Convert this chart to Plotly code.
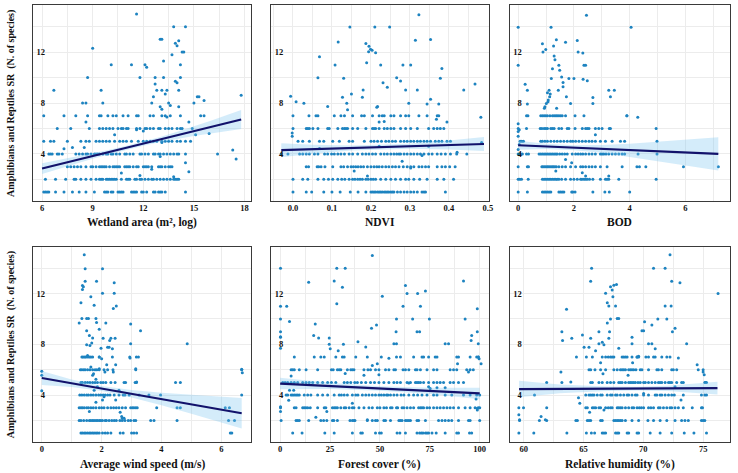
import plotly.graph_objects as go

# ---------------- DATA ----------------
# Panel 1: Wetland area (m2, log)
wet_rows = [
    (1, [6.1, 6.2, 6.3, 6.4, 6.8, 7.3, 7.8, 8.2, 8.6, 9.1, 9.7, 9.8, 9.9, 10.1, 10.2, 10.5, 10.6, 10.7, 10.8, 11.3, 11.4, 11.5, 11.6, 11.9, 12.0, 12.2, 12.6, 12.7, 12.9, 13.0, 13.1, 13.3, 14.5]),
    (2, [6.2, 6.8, 7.4, 7.9, 8.0, 8.3, 8.6, 8.9, 9.2, 9.4, 9.5, 9.6, 9.8, 9.9, 10.0, 10.1, 10.2, 10.3, 10.4, 10.7, 11.0, 11.1, 11.2, 11.5, 11.6, 11.8, 11.9, 12.1, 12.3, 12.5, 12.6, 12.8, 13.0, 13.2, 13.4, 13.6, 13.8, 13.9, 14.0, 14.1]),
    (3, [7.5, 7.7, 7.9, 8.1, 8.3, 8.6, 8.9, 9.0, 9.2, 9.4, 9.5, 9.6, 9.7, 9.8, 10.0, 10.2, 10.3, 10.4, 10.5, 10.6, 10.9, 11.0, 11.1, 11.2, 11.4, 11.6, 11.7, 12.0, 12.1, 12.2, 12.3, 12.5, 12.9, 13.0, 13.1, 13.3, 13.5, 13.6, 13.7]),
    (4, [6.4, 6.5, 6.6, 6.9, 7.0, 7.2, 8.0, 8.2, 8.4, 8.6, 8.7, 8.9, 9.1, 9.2, 9.3, 9.4, 9.6, 9.8, 9.9, 10.1, 10.2, 10.4, 10.6, 10.9, 11.0, 11.2, 11.4, 11.8, 11.9, 12.1, 12.3, 12.6, 12.7, 12.9, 13.0, 13.2, 13.4, 13.6, 13.8, 14.0, 14.1, 14.5, 16.4]),
    (5, [6.1, 6.5, 6.7, 7.5, 8.3, 8.6, 8.8, 9.2, 9.4, 9.6, 9.8, 10.0, 10.3, 10.6, 10.8, 11.0, 11.3, 11.7, 12.0, 12.2, 12.4, 12.6, 12.8, 13.1, 13.3, 13.5, 13.7, 14.0, 14.2, 14.5, 14.8]),
    (6, [6.9, 7.7, 8.8, 9.4, 9.6, 9.8, 10.0, 10.2, 10.5, 10.7, 10.8, 11.0, 11.1, 11.6, 11.8, 12.1, 12.2, 12.4, 12.6, 12.9, 13.0, 13.3, 13.5, 13.7, 14.0, 14.2, 14.3, 14.9]),
    (7, [6.1, 7.3, 8.0, 8.7, 9.4, 9.5, 9.9, 10.2, 10.4, 10.8, 11.1, 11.6, 11.7, 12.4, 12.6, 13.1, 13.3, 13.6, 14.2, 15.4, 15.6]),
]
wet_extra_x = [6.7, 8.4, 8.6, 8.7, 9.0, 9.5, 9.6, 10.1, 11.3, 11.6, 11.8, 12.1, 12.2, 12.5, 12.6, 12.7, 12.8, 12.7, 13.0, 13.1,
               13.2, 13.2, 13.1, 13.3, 13.4, 13.0, 13.1, 13.5, 13.6, 13.7, 13.8, 13.9, 14.0, 14.1, 13.9, 14.0, 14.1, 14.2, 14.2, 14.3,
               14.4, 14.5, 14.1, 14.7, 15.0, 15.2, 15.3, 15.6, 15.1, 15.9, 12.0, 11.6, 10.3, 10.7, 11.8, 12.5, 13.0, 13.1, 13.4, 13.8,
               14.5, 14.7, 17.3, 17.5, 17.8, 8.6, 8.5, 7.3, 7.8]
wet_extra_y = [9.0, 8.0, 8.0, 10.0, 12.3, 9.0, 8.0, 11.0, 11.0, 15.0, 10.0, 11.0, 10.8, 8.0, 8.5, 9.5, 9.0, 10.0, 13.0, 13.0,
               11.3, 10.0, 9.0, 8.7, 9.0, 7.7, 7.5, 8.0, 7.8, 11.8, 14.0, 12.7, 12.5, 12.9, 9.7, 9.6, 9.0, 10.0, 11.0, 12.0,
               12.0, 14.0, 7.7, 6.5, 8.0, 8.5, 8.5, 8.2, 5.5, 5.6, 5.8, 5.9, 5.5, 2.5, 2.3, 2.8, 3.8, 4.9, 6.9, 2.2,
               3.3, 2.6, 4.3, 3.6, 8.6, 6.5, 4.5, 4.4, 4.5]
wet_band_x = [6.0, 7.0, 8.0, 9.0, 10.0, 11.0, 12.0, 13.0, 14.0, 15.0, 16.0, 17.0, 17.8]
wet_fit_y = [2.85, 3.18, 3.50, 3.83, 4.15, 4.48, 4.81, 5.13, 5.46, 5.78, 6.11, 6.44, 6.70]
wet_band_hw = [0.42, 0.35, 0.28, 0.22, 0.18, 0.16, 0.17, 0.20, 0.28, 0.38, 0.50, 0.63, 0.75]

# Panel 2: NDVI
ndvi_rows = [
    (1, [0.000, 0.034, 0.048, 0.079, 0.100, 0.121, 0.147, 0.167, 0.187, 0.200, 0.204, 0.208, 0.212, 0.217, 0.221, 0.225, 0.229, 0.234, 0.238, 0.242, 0.246, 0.251, 0.255, 0.259, 0.268, 0.276, 0.285, 0.293, 0.302, 0.310, 0.319, 0.331, 0.336, 0.340, 0.391]),
    (2, [0.000, 0.025, 0.038, 0.064, 0.079, 0.091, 0.102, 0.115, 0.125, 0.133, 0.144, 0.153, 0.159, 0.166, 0.172, 0.178, 0.187, 0.193, 0.200, 0.206, 0.212, 0.225, 0.238, 0.251, 0.263, 0.276, 0.289, 0.297, 0.310, 0.325, 0.344, 0.370, 0.387, 0.412]),
    (3, [0.034, 0.040, 0.062, 0.066, 0.072, 0.082, 0.102, 0.123, 0.130, 0.140, 0.149, 0.155, 0.161, 0.167, 0.174, 0.181, 0.191, 0.200, 0.208, 0.215, 0.221, 0.229, 0.238, 0.246, 0.255, 0.263, 0.272, 0.283, 0.293, 0.302, 0.310, 0.323, 0.331, 0.340, 0.348, 0.370, 0.382, 0.391, 0.402, 0.416]),
    (4, [-0.030, -0.013, 0.017, 0.025, 0.034, 0.042, 0.055, 0.064, 0.081, 0.089, 0.099, 0.106, 0.115, 0.123, 0.132, 0.144, 0.153, 0.166, 0.178, 0.187, 0.195, 0.204, 0.212, 0.225, 0.234, 0.242, 0.251, 0.259, 0.266, 0.272, 0.276, 0.285, 0.293, 0.302, 0.310, 0.319, 0.327, 0.336, 0.348, 0.357, 0.370, 0.380, 0.391, 0.404, 0.420, 0.446]),
    (5, [0.013, 0.025, 0.042, 0.068, 0.079, 0.102, 0.119, 0.144, 0.153, 0.183, 0.200, 0.208, 0.217, 0.227, 0.238, 0.246, 0.255, 0.263, 0.276, 0.285, 0.293, 0.302, 0.310, 0.319, 0.327, 0.336, 0.344, 0.353, 0.365, 0.374, 0.382, 0.395, 0.404]),
    (6, [0.000, 0.034, 0.038, 0.042, 0.051, 0.064, 0.089, 0.093, 0.115, 0.127, 0.132, 0.136, 0.140, 0.153, 0.166, 0.187, 0.204, 0.208, 0.212, 0.221, 0.234, 0.242, 0.251, 0.259, 0.276, 0.289, 0.302, 0.319, 0.348, 0.361, 0.370, 0.378, 0.387]),
    (7, [0.000, 0.041, 0.059, 0.064, 0.106, 0.123, 0.132, 0.153, 0.176, 0.183, 0.204, 0.221, 0.229, 0.234, 0.251, 0.259, 0.276, 0.289, 0.297, 0.323, 0.344, 0.370, 0.374]),
]
ndvi_extra_x = [-0.006, 0.008, 0.028, 0.064, 0.068, 0.089, 0.108, 0.116, 0.130, 0.127, 0.138, 0.140, 0.146, 0.150, 0.178, 0.180,
                0.189, 0.187, 0.194, 0.195, 0.199, 0.203, 0.210, 0.212, 0.215, 0.217, 0.221, 0.225, 0.231, 0.242, 0.248, 0.266,
                0.276, 0.282, 0.289, 0.297, 0.302, 0.314, 0.319, 0.323, 0.344, 0.353, 0.353, 0.374, 0.378, 0.382, 0.395, 0.438,
                0.467, 0.482, 0.368, -0.002, -0.002, 0.068, 0.221, 0.280, 0.302, 0.421, 0.157, 0.191, 0.331, 0.484, 0.234, 0.348]
ndvi_extra_y = [8.53, 8.10, 7.98, 9.99, 11.63, 7.72, 10.98, 12.80, 9.94, 8.45, 7.98, 7.46, 13.97, 8.71, 8.45, 9.03,
                11.16, 12.67, 12.02, 12.46, 12.23, 12.15, 13.97, 11.94, 7.67, 7.72, 6.50, 10.98, 9.60, 9.23, 13.97, 9.99,
                9.73, 10.98, 9.03, 7.98, 10.98, 12.93, 9.03, 14.94, 7.93, 12.98, 8.30, 7.93, 9.94, 10.72, 6.50, 9.03,
                9.49, 6.89, 6.73, 5.64, 5.38, 4.42, 4.60, 3.43, 2.90, 4.13, 2.65, 2.26, 3.87, 4.90, 6.55, 4.60]
ndvi_band_x = [-0.03, 0.05, 0.15, 0.22, 0.30, 0.40, 0.49]
ndvi_fit_y = [4.29, 4.37, 4.46, 4.53, 4.60, 4.70, 4.78]
ndvi_band_hw = [0.55, 0.35, 0.20, 0.18, 0.20, 0.35, 0.55]

# Panel 3: BOD
bod_rows = [
    (1, [0.0, 0.33, 0.87, 0.93, 0.99, 1.05, 1.11, 1.17, 1.46, 1.52, 1.58, 1.64, 1.92, 1.96, 2.04, 2.68, 3.11, 3.27, 4.0]),
    (2, [0.0, 0.06, 0.12, 0.36, 0.87, 0.93, 0.99, 1.05, 1.11, 1.17, 1.23, 1.29, 1.35, 1.40, 1.46, 1.56, 1.70, 1.88, 2.0, 2.12, 2.24, 2.29, 2.36, 2.42, 2.48, 2.56, 2.68, 2.95, 3.13, 3.19, 3.25, 3.61, 4.95]),
    (3, [0.0, 0.33, 0.37, 0.85, 0.89, 0.94, 0.99, 1.04, 1.08, 1.13, 1.18, 1.23, 1.27, 1.32, 1.37, 1.46, 1.58, 1.70, 1.88, 2.06, 2.24, 2.32, 2.42, 2.54, 2.65, 2.77, 2.95, 3.19, 3.73, 4.26, 4.35, 4.58, 5.93, 7.18]),
    (4, [0.0, 0.07, 0.15, 0.30, 0.37, 0.75, 0.81, 0.87, 0.93, 0.99, 1.05, 1.11, 1.17, 1.23, 1.29, 1.35, 1.40, 1.49, 1.58, 1.67, 1.76, 1.94, 2.06, 2.15, 2.24, 2.32, 2.42, 2.54, 2.65, 2.77, 2.95, 3.01, 3.07, 3.15, 3.25, 3.37, 3.49, 3.61, 3.73, 3.82, 4.30, 4.98]),
    (5, [0.07, 0.13, 0.19, 0.81, 0.87, 0.96, 1.05, 1.17, 1.29, 1.40, 1.52, 1.64, 1.76, 1.88, 1.96, 2.06, 2.18, 2.30, 2.42, 2.54, 2.65, 2.77, 2.95, 3.13, 3.37, 3.67, 3.82, 4.98]),
    (6, [0.0, 0.30, 0.79, 0.85, 0.93, 0.99, 1.05, 1.17, 1.23, 1.29, 1.46, 1.56, 1.76, 1.82, 2.04, 2.30, 2.42, 2.48, 2.54, 2.77, 2.89, 3.01, 3.27, 3.31, 4.95]),
    (7, [0.30, 0.35, 0.81, 0.87, 0.93, 0.99, 1.05, 1.14, 1.23, 1.29, 1.35, 1.40, 1.46, 1.52, 1.58, 1.70, 2.04, 2.36, 3.90]),
]
bod_extra_x = [0.0, 0.0, 0.0, 0.0, 0.0, 0.0, 0.25, 0.33, 0.33, 0.87, 0.89, 0.99, 1.05, 0.96, 0.94, 1.01, 1.07, 1.08, 1.11, 1.13,
               1.15, 1.18, 1.19, 1.23, 1.27, 1.29, 1.32, 1.37, 1.38, 1.44, 1.46, 1.49, 1.56, 1.61, 1.61, 1.70, 1.73, 1.82, 1.88, 2.0,
               2.12, 2.15, 2.32, 2.33, 2.36, 2.42, 2.48, 2.68, 2.68, 3.25, 3.31, 3.45, 3.90, 4.05, 4.29, 1.70, 1.92, 1.35, 2.30, 2.77,
               2.42, 3.25, 2.45, 0.04, 0.04]
bod_extra_y = [13.95, 10.96, 6.36, 5.77, 5.38, 4.34, 9.48, 9.01, 7.92, 12.65, 12.0, 12.2, 8.81, 7.71, 7.58, 7.97, 8.10, 8.23, 9.01, 8.49,
               8.70, 13.95, 9.92, 10.70, 12.47, 11.69, 11.40, 12.96, 7.58, 9.01, 10.96, 10.57, 10.05, 9.61, 9.27, 12.78, 8.49, 9.92, 7.97, 9.92,
               12.91, 12.0, 11.92, 9.87, 10.96, 10.96, 9.74, 8.44, 7.97, 9.01, 8.49, 9.01, 6.99, 13.95, 6.88, 3.56, 3.30, 2.65, 2.52, 5.50,
               2.26, 2.26, 14.9, 5.90, 4.73]
bod_band_x = [0.0, 1.0, 2.0, 3.0, 4.0, 5.0, 6.0, 7.18]
bod_fit_y = [4.68, 4.59, 4.49, 4.40, 4.30, 4.21, 4.11, 4.00]
bod_band_hw = [0.35, 0.20, 0.20, 0.30, 0.50, 0.75, 1.00, 1.30]

# Panel 4: Average wind speed (m/s)
wind_rows = [
    (1, [1.31, 1.36, 1.42, 1.47, 1.53, 1.59, 1.64, 1.70, 1.75, 1.81, 1.86, 1.92, 2.03, 2.12, 2.20, 2.31, 2.62, 2.72, 3.00, 3.08, 3.17, 6.30, 6.35]),
    (2, [1.25, 1.31, 1.40, 1.50, 1.59, 1.64, 1.70, 1.75, 1.81, 1.86, 1.92, 1.97, 2.03, 2.12, 2.16, 2.25, 2.34, 2.42, 2.49, 2.61, 2.69, 2.78, 2.89, 2.97, 3.08, 3.14, 3.64, 3.75, 4.52, 6.24, 6.44]),
    (3, [1.25, 1.31, 1.36, 1.42, 1.50, 1.56, 1.64, 1.72, 1.81, 1.92, 2.00, 2.08, 2.20, 2.31, 2.40, 2.49, 2.58, 2.69, 2.80, 2.97, 3.03, 3.08, 3.14, 3.19, 3.84, 4.52, 4.63, 6.13, 6.27]),
    (4, [1.27, 1.34, 1.42, 1.50, 1.56, 1.64, 1.72, 1.81, 1.90, 1.97, 2.05, 2.12, 2.20, 2.28, 2.42, 2.58, 2.72, 2.78, 2.92, 3.25, 3.58, 3.97, 6.68]),
    (5, [1.31, 1.36, 1.45, 1.53, 1.61, 1.70, 1.78, 1.86, 1.97, 2.05, 2.14, 2.31, 2.45, 2.75, 2.80, 3.12, 3.16, 4.47, 4.63]),
    (6, [1.29, 1.34, 1.40, 1.45, 1.53, 1.61, 1.70, 1.78, 1.84, 1.92, 2.08, 2.20, 2.38, 3.14, 6.68]),
    (7, [1.34, 1.38, 1.43, 1.47, 1.53, 1.59, 1.64, 1.70, 1.92, 2.36, 3.16, 3.23]),
]
wind_extra_x = [0.0, 0.0, 0.0, 1.25, 1.31, 1.34, 1.36, 1.36, 1.39, 1.42, 1.45, 1.50, 1.50, 1.50, 1.53, 1.56, 1.59, 1.61, 1.64, 1.67,
                1.70, 1.45, 2.03, 1.83, 1.75, 1.81, 1.83, 1.92, 1.98, 1.92, 2.00, 2.03, 2.05, 2.14, 2.20, 2.25, 2.27, 2.36, 2.31, 2.42,
                2.42, 2.39, 2.49, 2.45, 2.39, 2.58, 2.47, 2.62, 2.67, 2.69, 2.75, 2.47, 2.17, 1.81, 1.86, 1.81, 1.75, 1.64, 1.70, 1.73,
                1.92, 2.11, 2.08, 2.03, 1.59, 2.97, 2.94, 2.95, 2.97, 3.30, 3.14, 3.17, 4.86, 6.68, 6.70]
wind_extra_y = [5.88, 5.56, 4.34, 9.68, 11.29, 10.04, 12.33, 12.65, 12.54, 15.07, 12.98, 10.04, 9.08, 7.96, 7.13, 10.04, 8.69, 7.90, 11.76, 8.10,
                8.50, 13.97, 13.97, 12.98, 11.08, 10.04, 9.73, 9.20, 7.70, 7.00, 6.86, 12.02, 8.48, 9.68, 7.78, 7.78, 8.30, 7.65, 8.48, 12.85,
                12.02, 10.82, 11.03, 8.48, 5.82, 4.39, 3.61, 2.65, 2.31, 2.18, 2.18, 6.40, 6.40, 5.25, 4.65, 3.43, 4.39, 6.21, 5.56, 5.69,
                6.08, 5.82, 3.87, 3.61, 2.70, 9.60, 7.00, 6.92, 8.04, 9.08, 6.08, 5.04, 8.04, 6.03, 5.77]
wind_band_x = [0.0, 1.0, 2.0, 3.0, 4.0, 5.0, 6.0, 6.68]
wind_fit_y = [5.35, 4.93, 4.52, 4.10, 3.69, 3.27, 2.85, 2.57]
wind_band_hw = [0.55, 0.30, 0.20, 0.30, 0.50, 0.75, 1.00, 1.20]

# Panel 5: Forest cover (%)
forest_rows = [
    (1, [6.3, 11.0, 22.4, 27.1, 36.2, 40.4, 41.2, 47.8, 49.8, 50.7, 58.6, 60.0, 62.8, 68.6, 69.9, 70.8, 71.6, 72.8, 73.6, 74.4, 76.1, 78.2, 82.7, 88.5, 89.4, 94.9, 96.0]),
    (2, [0.5, 8.0, 8.8, 9.6, 14.3, 20.4, 21.8, 23.4, 26.2, 26.9, 28.7, 35.0, 36.2, 37.0, 37.5, 43.7, 46.2, 47.8, 48.7, 52.0, 52.8, 55.3, 59.5, 60.3, 61.1, 62.8, 63.6, 64.5, 65.3, 68.6, 69.4, 72.8, 79.4, 81.1, 82.7, 84.4, 86.0, 89.4, 94.4, 95.2, 100.0]),
    (3, [0.2, 7.1, 8.0, 11.3, 12.1, 12.9, 13.8, 15.1, 18.8, 22.1, 22.9, 26.2, 27.1, 27.9, 28.7, 30.4, 32.1, 32.9, 34.6, 36.2, 37.0, 39.5, 42.0, 44.5, 46.2, 48.7, 50.0, 52.0, 53.3, 55.3, 56.1, 58.3, 58.9, 61.1, 62.0, 63.6, 65.3, 66.9, 69.4, 70.3, 71.1, 71.9, 73.6, 74.9, 76.9, 78.6, 80.2, 81.9, 83.6, 85.2, 86.9, 89.4, 92.7, 95.2, 97.7, 99.3, 100.0]),
    (4, [3.0, 3.8, 5.5, 6.3, 7.1, 8.0, 8.8, 9.6, 12.1, 13.8, 15.4, 18.8, 21.3, 23.8, 27.1, 29.6, 30.7, 32.1, 33.7, 36.2, 37.9, 39.0, 41.2, 42.9, 44.5, 46.2, 47.8, 49.5, 50.7, 52.0, 53.3, 54.0, 55.3, 57.0, 58.6, 60.6, 62.0, 64.5, 66.9, 68.9, 71.1, 73.6, 76.9, 78.6, 82.7, 86.0, 91.9, 95.2, 98.5, 100.0]),
    (5, [1.3, 2.5, 3.8, 5.5, 7.1, 8.8, 11.3, 13.0, 14.6, 16.3, 18.8, 21.3, 23.8, 25.7, 27.9, 32.1, 33.7, 35.4, 37.4, 38.7, 40.7, 42.9, 45.3, 47.3, 49.5, 52.0, 54.5, 57.0, 58.6, 60.3, 63.6, 65.3, 67.8, 68.6, 69.4, 70.3, 71.9, 74.4, 76.9, 78.6, 80.2, 81.9, 85.2, 86.9, 89.4, 91.9]),
    (6, [5.5, 6.3, 7.1, 9.6, 13.0, 18.8, 25.7, 26.6, 28.7, 29.6, 30.4, 33.7, 35.4, 36.2, 37.0, 42.0, 44.0, 45.3, 47.8, 49.5, 52.8, 54.5, 57.0, 57.8, 61.6, 62.8, 64.5, 67.8, 68.6, 70.3, 73.6, 76.9, 78.6, 85.2, 86.9, 88.5, 93.5, 95.2, 96.8]),
    (7, [7.1, 17.1, 20.4, 22.1, 27.9, 31.2, 32.1, 37.9, 43.7, 50.7, 58.3, 60.3, 66.9, 71.1, 71.9, 74.4, 77.7, 78.6, 88.5, 89.4, 95.2, 98.5, 99.3]),
]
forest_extra_x = [0.2, 0.2, 0.2, 0.2, 0.2, 0.2, 0.2, 3.3, 4.7, 16.8, 17.6, 14.3, 19.3, 24.6, 24.6, 25.1, 27.1, 28.4, 28.4, 29.1,
                  31.2, 31.7, 32.6, 32.6, 39.0, 42.9, 42.0, 46.2, 45.8, 46.2, 48.3, 48.7, 49.5, 51.2, 54.5, 57.0, 58.1, 58.3, 58.3, 61.6,
                  62.8, 63.6, 66.4, 68.6, 69.9, 68.9, 70.3, 72.8, 74.8, 82.7, 84.4, 88.9, 91.9, 92.7, 94.4, 95.7, 98.8, 98.8, 99.3, 99.3,
                  99.7, 100.7, 98.2, 98.8, 98.8, 96.0, 6.8, 5.5, 4.7, 4.3, 0.2, 0.2, 23.4, 17.9, 36.2, 43.7, 64.5, 78.6, 82.7, 74.4, 75.2]
forest_extra_y = [14.0, 11.0, 10.0, 9.0, 8.56, 7.7, 8.6, 11.0, 9.8, 8.7, 9.6, 12.9, 8.5, 8.5, 8.0, 7.65, 13.0, 14.0, 11.2, 7.5,
                  12.5, 8.0, 14.0, 5.7, 8.2, 7.8, 5.56, 15.0, 9.26, 6.34, 9.52, 6.47, 5.6, 11.8, 6.9, 8.04, 9.0, 10.0, 8.04, 11.0,
                  12.65, 12.0, 10.0, 9.0, 9.0, 12.0, 11.0, 12.2, 10.0, 8.04, 8.04, 6.47, 13.0, 10.0, 5.82, 8.3, 10.8, 9.0, 8.04, 7.0,
                  6.86, 6.47, 3.69, 2.96, 2.83, 8.69, 4.39, 5.51, 4.39, 3.6, 2.7, 3.08, 2.7, 2.26, 3.35, 2.05, 4.96, 4.57, 4.57, 4.65, 4.52]
forest_band_x = [0.0, 25.0, 50.0, 75.0, 100.0]
forest_fit_y = [4.91, 4.72, 4.52, 4.33, 4.13]
forest_band_hw = [0.45, 0.25, 0.18, 0.25, 0.45]

# Panel 6: Relative humidity (%)
hum_rows = [
    (1, [59.58, 60.83, 63.60, 65.23, 65.65, 65.92, 66.56, 66.70, 66.84, 67.67, 67.81, 67.94, 68.64, 68.77, 69.47, 69.60, 70.57, 71.40, 72.37, 73.42, 74.23, 75.28]),
    (2, [59.64, 61.30, 61.91, 64.35, 64.48, 65.31, 65.45, 65.59, 66.42, 66.56, 67.53, 67.67, 67.81, 67.94, 68.08, 68.22, 68.50, 69.05, 69.60, 70.38, 70.85, 71.40, 71.96, 72.65, 73.20, 73.48, 73.76, 74.86, 75.00, 75.14]),
    (3, [59.58, 59.97, 61.91, 65.18, 65.31, 65.73, 65.87, 66.01, 66.28, 66.42, 66.84, 67.06, 67.25, 67.39, 67.81, 67.94, 68.08, 68.22, 68.50, 68.77, 69.05, 69.19, 69.47, 69.66, 69.83, 70.02, 70.43, 70.63, 70.85, 71.26, 71.40, 71.68, 71.96, 72.23, 72.37, 72.65, 72.93, 73.34, 74.09, 74.86, 74.95]),
    (4, [60.89, 65.18, 65.45, 65.59, 65.73, 65.87, 66.14, 66.42, 66.56, 66.97, 67.25, 67.39, 67.67, 67.81, 68.08, 68.36, 68.64, 68.77, 69.05, 69.33, 69.47, 70.02, 70.43, 70.99, 71.13, 71.40, 71.54, 71.82, 72.10, 72.37, 72.59, 73.34, 74.86, 75.14, 75.28]),
    (5, [61.91, 63.18, 65.59, 65.73, 66.28, 66.56, 66.97, 67.25, 67.53, 67.94, 68.08, 68.22, 68.50, 68.77, 68.91, 69.05, 69.19, 69.33, 69.55, 69.74, 70.02, 70.16, 70.43, 70.71, 70.99, 71.26, 71.40, 71.54, 71.82, 72.10, 72.23, 72.37, 72.79, 73.20, 73.34, 75.14, 75.28]),
    (6, [65.45, 65.59, 65.95, 66.42, 66.84, 67.53, 67.81, 68.08, 68.22, 68.36, 68.50, 68.77, 68.91, 69.05, 69.19, 69.38, 69.74, 69.88, 70.43, 71.13, 71.26, 71.54, 72.37, 72.51, 72.79]),
    (7, [65.23, 65.73, 66.56, 66.84, 67.06, 67.25, 67.39, 67.53, 68.22, 68.36, 68.50, 68.64, 69.05, 69.47, 69.60, 70.21, 70.43, 70.85, 70.99, 71.54, 71.96, 72.23]),
]
hum_extra_x = [59.58, 59.64, 61.44, 61.80, 63.10, 63.18, 63.24, 63.57, 64.01, 64.40, 64.57, 64.68, 64.90, 65.04, 65.45, 65.59, 65.67, 65.59, 65.50, 66.00,
               66.28, 66.28, 66.42, 66.56, 66.70, 66.62, 66.70, 66.84, 66.98, 66.98, 67.11, 67.11, 67.17, 67.25, 67.25, 67.39, 67.45, 67.53, 67.67, 67.75,
               67.81, 67.94, 67.94, 68.72, 69.05, 69.05, 69.10, 69.47, 69.60, 69.88, 70.02, 70.10, 70.02, 70.43, 70.71, 70.71, 70.85, 70.99, 71.21, 71.82,
               71.82, 71.96, 72.23, 72.32, 72.37, 72.43, 72.65, 72.65, 72.93, 73.06, 73.15, 73.62, 74.50, 74.59, 75.00, 75.00, 75.09, 75.20, 76.25, 63.93]
hum_extra_y = [2.44, 2.05, 2.31, 2.05, 5.82, 9.00, 8.30, 10.77, 8.48, 7.00, 3.79, 3.35, 8.74, 7.78, 7.78, 12.98, 14.00, 8.48, 2.65, 7.50,
               9.00, 8.04, 6.55, 8.17, 7.96, 5.69, 2.83, 12.02, 11.29, 9.68, 11.03, 8.48, 9.00, 10.00, 12.54, 12.28, 11.76, 12.67, 11.03, 12.72,
               10.04, 10.04, 7.70, 5.56, 8.56, 8.04, 6.55, 7.00, 7.07, 9.08, 9.08, 9.78, 4.13, 8.04, 9.52, 8.04, 14.00, 7.65, 10.00, 14.00,
               11.03, 10.00, 15.06, 11.03, 12.98, 9.00, 9.26, 4.65, 6.92, 12.85, 3.61, 8.04, 6.40, 6.00, 6.00, 5.82, 5.61, 5.00, 12.00, 5.04]
hum_band_x = [59.6, 63.0, 67.0, 69.5, 72.0, 74.0, 76.2]
hum_fit_y = [4.47, 4.49, 4.50, 4.51, 4.53, 4.54, 4.55]
hum_band_hw = [0.65, 0.35, 0.17, 0.15, 0.20, 0.35, 0.50]

# Titles and ticks
x_titles = ["Wetland area (m², log)", "NDVI", "BOD", "Average wind speed (m/s)", "Forest cover (%)", "Relative humidity (%)"]
y_title = "Amphibians and Reptiles SR  (N. of species)"
x_tickvals = [[6, 9, 12, 15, 18], [0.0, 0.1, 0.2, 0.3, 0.4, 0.5], [0, 2, 4, 6], [0, 2, 4, 6], [0, 25, 50, 75, 100], [60, 65, 70, 75]]
y_tickvals = [4, 8, 12]

# ---------------- STYLE ----------------
FONT = "Liberation Serif"
PT_COLOR = "#1d83c0"
LINE_COLOR = "#12126b"
BAND_COLOR = "rgba(120,195,240,0.32)"
GRID = "#ececec"

panels = [
    (wet_rows, wet_extra_x, wet_extra_y, wet_band_x, wet_fit_y, wet_band_hw),
    (ndvi_rows, ndvi_extra_x, ndvi_extra_y, ndvi_band_x, ndvi_fit_y, ndvi_band_hw),
    (bod_rows, bod_extra_x, bod_extra_y, bod_band_x, bod_fit_y, bod_band_hw),
    (wind_rows, wind_extra_x, wind_extra_y, wind_band_x, wind_fit_y, wind_band_hw),
    (forest_rows, forest_extra_x, forest_extra_y, forest_band_x, forest_fit_y, forest_band_hw),
    (hum_rows, hum_extra_x, hum_extra_y, hum_band_x, hum_fit_y, hum_band_hw),
]
x_ranges = [[5.45, 18.4], [-0.056, 0.502], [-0.31, 7.6], [-0.3, 7.0], [-4.5, 104.5], [58.8, 77.25]]
x_minor = [1.5, 0.05, 1, 1, 12.5, 2.5]
x_doms = [[33 / 738, 253 / 738], [273 / 738, 492 / 738], [513 / 738, 735 / 738]]
y_doms = [[1 - 201 / 473, 1 - 5 / 473], [1 - 442 / 473, 1 - 246.7 / 473]]

fig = go.Figure()
layout = dict(width=738, height=473, margin=dict(l=0, r=0, t=0, b=0),
              paper_bgcolor="white", plot_bgcolor="white", showlegend=False,
              font=dict(family=FONT, color="#111"))
annotations = []

for i, (rows, ex_x, ex_y, bx, fy, hw) in enumerate(panels):
    n = i + 1
    xa = "x" if n == 1 else f"x{n}"
    ya = "y" if n == 1 else f"y{n}"
    px, py = [], []
    for yv, xs in rows:
        px.extend(xs)
        py.extend([yv] * len(xs))
    px.extend(ex_x)
    py.extend(ex_y)
    fig.add_trace(go.Scatter(x=px, y=py, mode="markers", xaxis=xa, yaxis=ya,
                             marker=dict(size=3.0, color=PT_COLOR, line=dict(width=0)),
                             hoverinfo="skip"))
    lo = [f - h for f, h in zip(fy, hw)]
    hi = [f + h for f, h in zip(fy, hw)]
    fig.add_trace(go.Scatter(x=bx + bx[::-1], y=hi + lo[::-1], fill="toself", mode="lines",
                             line=dict(width=0), fillcolor=BAND_COLOR,
                             xaxis=xa, yaxis=ya, hoverinfo="skip"))
    fig.add_trace(go.Scatter(x=[bx[0], bx[-1]], y=[fy[0], fy[-1]], mode="lines",
                             line=dict(color=LINE_COLOR, width=2.2), xaxis=xa, yaxis=ya,
                             hoverinfo="skip"))

    row, col = divmod(i, 3)
    xkey = "xaxis" if n == 1 else f"xaxis{n}"
    ykey = "yaxis" if n == 1 else f"yaxis{n}"
    layout[xkey] = dict(domain=x_doms[col], anchor=ya, range=x_ranges[i],
                        tickvals=x_tickvals[i], tickformat=".1f" if i == 1 else None,
                        showgrid=True, gridcolor=GRID, gridwidth=1, zeroline=False,
                        minor=dict(dtick=x_minor[i], tick0=0, showgrid=True, gridcolor=GRID, gridwidth=0.6),
                        showline=True, mirror=True, linecolor="#3a3a3a", linewidth=1.3,
                        ticks="", ticklabelstandoff=-1,
                        tickfont=dict(family=FONT, size=8.5, color="#111", weight="bold"))
    layout[ykey] = dict(domain=y_doms[row], anchor=xa, range=[0.3, 15.7],
                        tickvals=y_tickvals, showgrid=True, gridcolor=GRID, gridwidth=1,
                        zeroline=False,
                        minor=dict(dtick=2, tick0=0, showgrid=True, gridcolor=GRID, gridwidth=0.6),
                        showline=True, mirror=True, linecolor="#3a3a3a", linewidth=1.3,
                        ticks="", ticklabelstandoff=-15,
                        tickfont=dict(family=FONT, size=8.5, color="#111", weight="bold"))
    xc = (x_doms[col][0] + x_doms[col][1]) / 2
    ty = 1 - 222 / 473 if row == 0 else 1 - 464 / 473
    annotations.append(dict(text=x_titles[i], x=xc, y=ty, xref="paper", yref="paper",
                            showarrow=False, xanchor="center", yanchor="middle",
                            font=dict(family=FONT, size=11.5, color="#111", weight="bold")))

for row in range(2):
    yc = (y_doms[row][0] + y_doms[row][1]) / 2
    annotations.append(dict(text=y_title, x=11 / 738, y=yc, xref="paper", yref="paper",
                            showarrow=False, textangle=-90, xanchor="center", yanchor="middle",
                            font=dict(family=FONT, size=10, color="#111", weight="bold")))

layout["annotations"] = annotations
fig.update_layout(**layout)
fig.write_html("out.html")
